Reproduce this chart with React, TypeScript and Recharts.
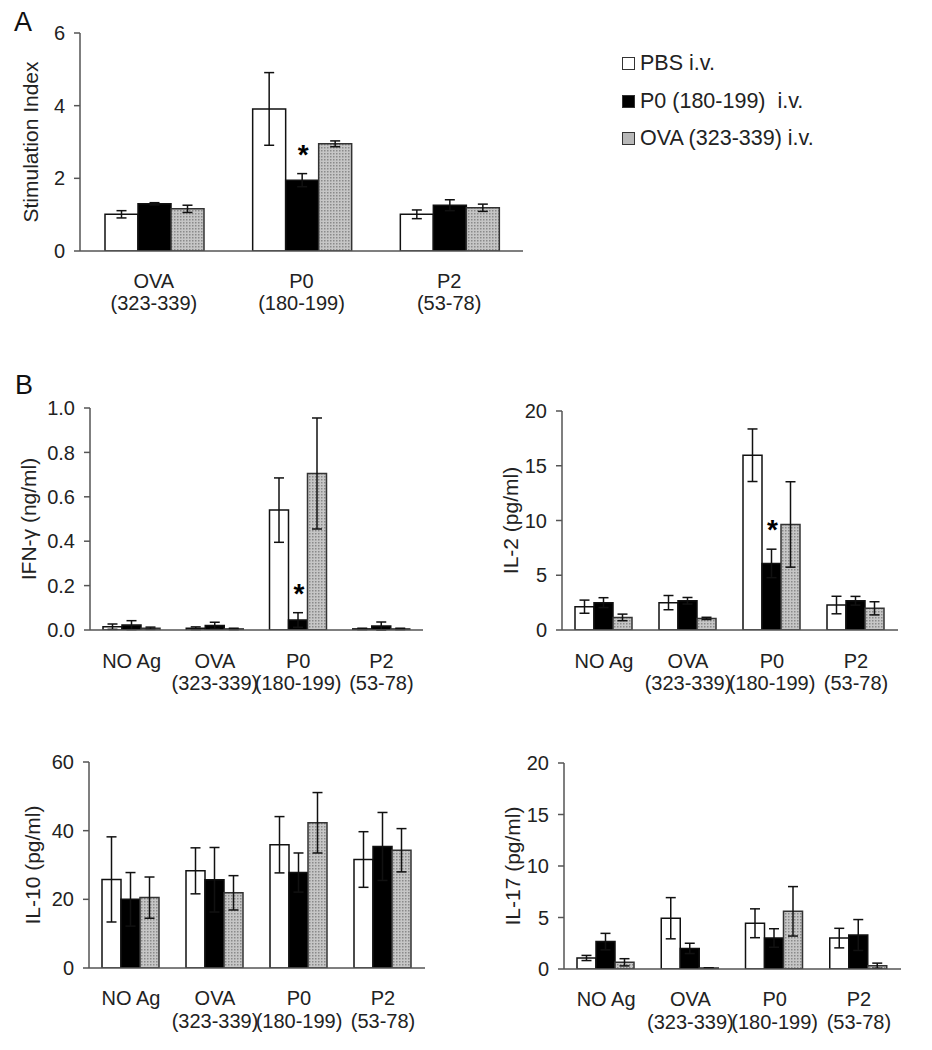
import React from 'react';
import { BarChart, Bar, XAxis, YAxis, ErrorBar } from 'recharts';

const FONT = '"Liberation Sans", Arial, Helvetica, sans-serif';
const INK = '#222';
const AXIS = '#555';

const seriesNames = ['PBS i.v.', 'P0 (180-199)  i.v.', 'OVA (323-339) i.v.'];
const seriesFills = ['#ffffff', '#000000', 'url(#dots)'];
const legendSwatch = ['#ffffff', '#000000', '#b8b8b8'];

// panel A - stimulation index
const aAntigens = ['OVA', 'P0', 'P2'];
const aPeptides = ['(323-339)', '(180-199)', '(53-78)'];
const aPbs = [1.01, 3.91, 1.01];
const aPbsErr = [0.1, 1.0, 0.12];
const aP0 = [1.3, 1.95, 1.26];
const aP0Err = [0.03, 0.18, 0.15];
const aOva = [1.16, 2.95, 1.19];
const aOvaErr = [0.1, 0.08, 0.1];
const aStar = [false, true, false];
const aTicks = [0, 2, 4, 6];

// panel B - cytokines
const bAntigens = ['NO Ag', 'OVA', 'P0', 'P2'];
const bPeptides = ['', '(323-339)', '(180-199)', '(53-78)'];

const ifnPbs = [0.015, 0.008, 0.54, 0.005];
const ifnPbsErr = [0.012, 0.006, 0.145, 0.003];
const ifnP0 = [0.022, 0.02, 0.045, 0.018];
const ifnP0Err = [0.02, 0.015, 0.033, 0.018];
const ifnOva = [0.008, 0.005, 0.705, 0.005];
const ifnOvaErr = [0.005, 0.003, 0.25, 0.003];
const ifnStar = [false, false, true, false];
const ifnTicks = [0, 0.2, 0.4, 0.6, 0.8, 1.0];

const il2Pbs = [2.13, 2.5, 15.96, 2.28];
const il2PbsErr = [0.6, 0.65, 2.4, 0.8];
const il2P0 = [2.5, 2.67, 6.08, 2.67];
const il2P0Err = [0.45, 0.3, 1.3, 0.4];
const il2Ova = [1.15, 1.06, 9.64, 1.98];
const il2OvaErr = [0.3, 0.1, 3.9, 0.6];
const il2Star = [false, false, true, false];
const il2Ticks = [0, 5, 10, 15, 20];

const il10Pbs = [25.8, 28.3, 35.9, 31.6];
const il10PbsErr = [12.4, 6.7, 8.2, 8.1];
const il10P0 = [20.0, 25.7, 27.8, 35.4];
const il10P0Err = [7.8, 9.4, 5.7, 9.9];
const il10Ova = [20.5, 21.9, 42.3, 34.3];
const il10OvaErr = [6, 5, 8.8, 6.3];
const il10Star = [false, false, false, false];
const il10Ticks = [0, 20, 40, 60];

const il17Pbs = [1.07, 4.93, 4.44, 3.0];
const il17PbsErr = [0.25, 2.0, 1.4, 0.95];
const il17P0 = [2.66, 2.0, 3.01, 3.3];
const il17P0Err = [0.8, 0.5, 0.9, 1.5];
const il17Ova = [0.65, 0.1, 5.6, 0.32];
const il17OvaErr = [0.35, 0.02, 2.4, 0.25];
const il17Star = [false, false, false, false];
const il17Ticks = [0, 5, 10, 15, 20];

type Row = {
  name: string;
  peptide: string;
  pbs: number; pbsErr: number;
  p0: number; p0Err: number;
  ova: number; ovaErr: number;
  star: boolean;
};

function buildRows(
  antigens: string[], peptides: string[],
  pbs: number[], pbsErr: number[],
  p0: number[], p0Err: number[],
  ova: number[], ovaErr: number[],
  star: boolean[],
): Row[] {
  return antigens.map((name, i) => ({
    name,
    peptide: peptides[i],
    pbs: pbs[i], pbsErr: pbsErr[i],
    p0: p0[i], p0Err: p0Err[i],
    ova: ova[i], ovaErr: ovaErr[i],
    star: star[i],
  }));
}

const aRows = buildRows(aAntigens, aPeptides, aPbs, aPbsErr, aP0, aP0Err, aOva, aOvaErr, aStar);
const ifnRows = buildRows(bAntigens, bPeptides, ifnPbs, ifnPbsErr, ifnP0, ifnP0Err, ifnOva, ifnOvaErr, ifnStar);
const il2Rows = buildRows(bAntigens, bPeptides, il2Pbs, il2PbsErr, il2P0, il2P0Err, il2Ova, il2OvaErr, il2Star);
const il10Rows = buildRows(bAntigens, bPeptides, il10Pbs, il10PbsErr, il10P0, il10P0Err, il10Ova, il10OvaErr, il10Star);
const il17Rows = buildRows(bAntigens, bPeptides, il17Pbs, il17PbsErr, il17P0, il17P0Err, il17Ova, il17OvaErr, il17Star);

type PanelProps = {
  rows: Row[];
  left: number; top: number; width: number; height: number;
  marginTop: number; marginRight: number;
  yWidth: number; xHeight: number;
  domain: [number, number]; ticks: number[];
  fmt?: (v: number) => string;
  title: string; titleX: number;
  gap: number;
  line1: number; line2: number;
};

function Panel(p: PanelProps) {
  const rows = p.rows;

  const renderTick = (t: any) => {
    const row = rows.find((r) => r.name === t.payload.value);
    return (
      <g>
        <text x={t.x} y={t.y + p.line1} textAnchor="middle" fontSize={20} fill={INK} fontFamily={FONT}>
          {t.payload.value}
        </text>
        {row && row.peptide ? (
          <text x={t.x} y={t.y + p.line2} textAnchor="middle" fontSize={20} fill={INK} fontFamily={FONT}>
            {row.peptide}
          </text>
        ) : null}
      </g>
    );
  };

  const renderStar = (l: any) => {
    const row = rows[l.index];
    if (!row || !row.star) return null;
    const errPx = (row.p0Err * Number(l.height)) / row.p0;
    const cx = Number(l.x) + Number(l.width) / 2;
    return (
      <text x={cx + 1} y={Number(l.y) - errPx - 10} textAnchor="middle" fontSize={28} fontWeight="bold" fill="#000" fontFamily={FONT}>
        *
      </text>
    );
  };

  const renderTitle = (l: any) => {
    const vb = l.viewBox || {};
    const cy = (vb.y || 0) + (vb.height || 0) / 2;
    return (
      <text
        x={p.titleX}
        y={cy}
        transform={`rotate(-90, ${p.titleX}, ${cy})`}
        textAnchor="middle"
        dominantBaseline="central"
        fontSize={21}
        fill={INK}
        fontFamily={FONT}
      >
        {p.title}
      </text>
    );
  };

  return (
    <div style={{ position: 'absolute', left: p.left, top: p.top }}>
      <BarChart
        width={p.width}
        height={p.height}
        data={rows}
        margin={{ top: p.marginTop, right: p.marginRight, left: 0, bottom: 0 }}
        barCategoryGap={p.gap}
        barGap={0}
      >
        <XAxis
          dataKey="name"
          height={p.xHeight}
          axisLine={{ stroke: AXIS, strokeWidth: 1.5 }}
          tickLine={false}
          tickSize={0}
          tickMargin={0}
          interval={0}
          tick={renderTick}
        />
        <YAxis
          width={p.yWidth}
          domain={p.domain}
          ticks={p.ticks}
          interval={0}
          allowDataOverflow
          axisLine={{ stroke: AXIS, strokeWidth: 1.5 }}
          tickLine={{ stroke: AXIS, strokeWidth: 1.5 }}
          tickSize={6}
          tickMargin={9}
          tickFormatter={p.fmt}
          tick={{ fontSize: 20, fill: INK, fontFamily: FONT }}
          label={renderTitle}
        />
        <Bar dataKey="pbs" name={seriesNames[0]} fill={seriesFills[0]} stroke="#111" strokeWidth={1.5} isAnimationActive={false}>
          <ErrorBar dataKey="pbsErr" width={5} stroke="#111" strokeWidth={1.5} />
        </Bar>
        <Bar dataKey="p0" name={seriesNames[1]} fill={seriesFills[1]} stroke="#111" strokeWidth={1.5} isAnimationActive={false} label={renderStar}>
          <ErrorBar dataKey="p0Err" width={5} stroke="#111" strokeWidth={1.5} />
        </Bar>
        <Bar dataKey="ova" name={seriesNames[2]} fill={seriesFills[2]} stroke="#333" strokeWidth={1.5} isAnimationActive={false}>
          <ErrorBar dataKey="ovaErr" width={5} stroke="#111" strokeWidth={1.5} />
        </Bar>
      </BarChart>
    </div>
  );
}

function LegendBox() {
  return (
    <div style={{ position: 'absolute', left: 622, top: 45, fontFamily: FONT, fontSize: 21.5, color: INK }}>
      {seriesNames.map((n, i) => (
        <div key={n} style={{ display: 'flex', alignItems: 'center', height: 37.5 }}>
          <span
            style={{
              display: 'inline-block',
              width: 11,
              height: 11,
              border: '1.5px solid #333',
              background: legendSwatch[i],
              marginRight: 5,
            }}
          />
          <span style={{ whiteSpace: 'pre' }}>{n}</span>
        </div>
      ))}
    </div>
  );
}

export default function App() {
  const one = (v: number) => v.toFixed(1);
  return (
    <div
      style={{
        position: 'absolute',
        left: 0,
        top: 0,
        width: 932,
        height: 1050,
        background: '#fff',
        fontFamily: FONT,
        overflow: 'hidden',
      }}
    >
      <svg width={0} height={0} style={{ position: 'absolute' }}>
        <defs>
          <pattern id="dots" width={3} height={3} patternUnits="userSpaceOnUse">
            <rect width={3} height={3} fill="#c6c6c6" />
            <rect width={1.5} height={1.5} fill="#8a8a8a" />
          </pattern>
        </defs>
      </svg>

      <div style={{ position: 'absolute', left: 14, top: 7, fontSize: 27, color: '#111' }}>A</div>
      <div style={{ position: 'absolute', left: 15, top: 370, fontSize: 27, color: '#111' }}>B</div>

      <Panel
        rows={aRows}
        left={0} top={0} width={540} height={320}
        marginTop={33} marginRight={17}
        yWidth={80} xHeight={69}
        domain={[0, 6]} ticks={aTicks}
        title="Stimulation Index" titleX={30}
        gap={25} line1={37} line2={59}
      />
      <LegendBox />

      <Panel
        rows={ifnRows}
        left={0} top={380} width={440} height={330}
        marginTop={28} marginRight={17}
        yWidth={90} xHeight={80}
        domain={[0, 1]} ticks={ifnTicks} fmt={one}
        title="IFN-γ (ng/ml)" titleX={28}
        gap={13} line1={38} line2={60}
      />
      <Panel
        rows={il2Rows}
        left={470} top={380} width={440} height={330}
        marginTop={31} marginRight={12}
        yWidth={92} xHeight={80}
        domain={[0, 20]} ticks={il2Ticks}
        title="IL-2 (pg/ml)" titleX={40}
        gap={13} line1={38} line2={60}
      />
      <Panel
        rows={il10Rows}
        left={0} top={730} width={440} height={320}
        marginTop={32} marginRight={15}
        yWidth={89} xHeight={82}
        domain={[0, 60]} ticks={il10Ticks}
        title="IL-10 (pg/ml)" titleX={32}
        gap={13} line1={37} line2={60}
      />
      <Panel
        rows={il17Rows}
        left={470} top={730} width={440} height={320}
        marginTop={33} marginRight={9}
        yWidth={94} xHeight={81}
        domain={[0, 20]} ticks={il17Ticks}
        title="IL-17 (pg/ml)" titleX={42}
        gap={13} line1={37} line2={60}
      />
    </div>
  );
}
